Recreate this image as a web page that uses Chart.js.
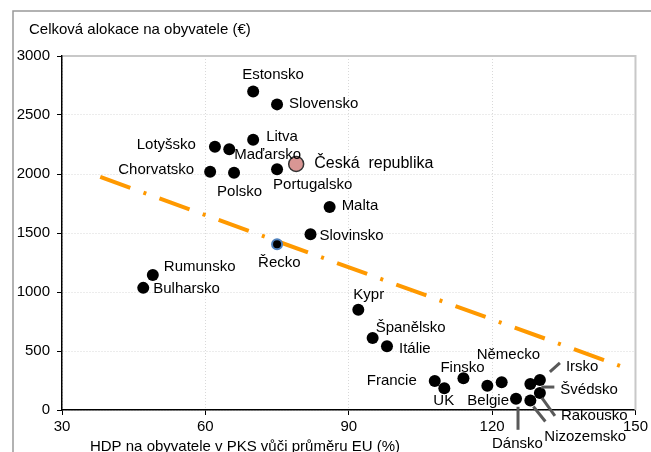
<!DOCTYPE html>
<html>
<head>
<meta charset="utf-8">
<script src="https://cdn.jsdelivr.net/npm/chart.js@4/dist/chart.umd.min.js"></script>
<style>
  body { margin: 0; background: #fff; }
  #wrap { width: 651px; height: 452px; }
</style>
</head>
<body>
<div id="wrap"><canvas id="graf" width="651" height="452"></canvas></div>
<script>
// Data z grafu
const zeme = ['Estonsko', 'Slovensko', 'Litva', 'Lotyšsko', 'Maďarsko', 'Česká republika',
  'Chorvatsko', 'Polsko', 'Portugalsko', 'Malta', 'Slovinsko', 'Řecko', 'Rumunsko', 'Bulharsko',
  'Kypr', 'Španělsko', 'Itálie', 'Francie', 'UK', 'Finsko', 'Belgie', 'Německo', 'Dánsko',
  'Nizozemsko', 'Irsko', 'Švédsko', 'Rakousko'];
const hdp = [70, 75, 70, 62, 65, 79, 61, 66, 75, 86, 82, 75, 49, 47,
  92, 95, 98, 108, 110, 114, 119, 122, 125, 128, 130, 128, 130];
const alokace = [2700, 2590, 2290, 2230, 2210, 2085, 2020, 2010, 2040, 1720, 1490, 1405, 1145, 1035,
  850, 610, 540, 245, 185, 270, 205, 235, 95, 80, 255, 220, 145];

// Trend (dvě koncové hodnoty)
const trendX = [38, 148];
const trendY = [1975, 356];

const xTicks = [30, 60, 90, 120, 150];
const yTicks = [0, 500, 1000, 1500, 2000, 2500, 3000];

const nazevY = 'Celková alokace na obyvatele (€)';
const nazevX = 'HDP na obyvatele v PKS vůči průměru EU (%)';

// Posun popisků vůči bodu: [dx, dy, zarovnání]
const popisky = {
  'Estonsko': [-11, -17, 'left'], 'Slovensko': [12, -1, 'left'], 'Litva': [13, -3, 'left'],
  'Lotyšsko': [-19, -2, 'right'], 'Maďarsko': [5, 6, 'left'], 'Česká republika': [18, 0, 'left'],
  'Chorvatsko': [-16, -2, 'right'], 'Polsko': [-17, 19, 'left'], 'Portugalsko': [-4, 16, 'left'],
  'Malta': [12, -1, 'left'], 'Slovinsko': [9, 2, 'left'], 'Řecko': [-19, 19, 'left'],
  'Rumunsko': [11, -8, 'left'], 'Bulharsko': [10, 1, 'left'], 'Kypr': [-5, -15, 'left'],
  'Španělsko': [3, -10, 'left'], 'Itálie': [12, 3, 'left'], 'Francie': [-18, 0, 'right'],
  'UK': [-11, 13, 'left'], 'Finsko': [-23, -10, 'left'], 'Belgie': [-20, 15, 'left'],
  'Německo': [-25, -27, 'left'], 'Dánsko': [-24, 45, 'left'], 'Nizozemsko': [14, 36, 'left'],
  'Irsko': [26, -13, 'left'], 'Švédsko': [30, 6, 'left'], 'Rakousko': [21, 23, 'left']
};
// Vodicí čáry
const vodice = {
  'Irsko': [10, -8, 20, -17], 'Švédsko': [11, 3, 24, 3], 'Rakousko': [2, 5, 15, 23],
  'Nizozemsko': [3, 6, 15, 21], 'Dánsko': [2, 8, 2, 31]
};

const body = zeme.map((z, i) => ({ x: hdp[i], y: alokace[i] }));
const trend = trendX.map((x, i) => ({ x: x, y: trendY[i] }));

const ramecek = {
  id: 'ramecek',
  beforeDraw(chart) {
    const ctx = chart.ctx;
    ctx.save();
    ctx.strokeStyle = '#999';
    ctx.lineWidth = 1.5;
    ctx.strokeRect(13, 11, 700, 500);
    ctx.restore();
  },
  afterDraw(chart) {
    const ctx = chart.ctx;
    const a = chart.chartArea;
    ctx.save();
    ctx.strokeStyle = '#c8c8c8';
    ctx.lineWidth = 2;
    ctx.beginPath();
    ctx.moveTo(a.left + 1, a.top);
    ctx.lineTo(a.right, a.top);
    ctx.lineTo(a.right, a.bottom);
    ctx.stroke();
    ctx.fillStyle = '#000';
    ctx.font = '15px "Liberation Sans", Arial, sans-serif';
    ctx.textBaseline = 'middle';
    ctx.textAlign = 'left';
    ctx.fillText(nazevY, 29, 30);
    ctx.textAlign = 'center';
    ctx.fillText(nazevX, 245, 447);
    ctx.restore();
  }
};

const popiskyPlugin = {
  id: 'popisky',
  afterDatasetsDraw(chart) {
    const ctx = chart.ctx;
    const meta = chart.getDatasetMeta(0);
    ctx.save();
    meta.data.forEach((el, i) => {
      const z = zeme[i];
      const v = vodice[z];
      if (v) {
        ctx.strokeStyle = '#595959';
        ctx.lineWidth = 3;
        ctx.beginPath();
        ctx.moveTo(el.x + v[0], el.y + v[1]);
        ctx.lineTo(el.x + v[2], el.y + v[3]);
        ctx.stroke();
      }
      const p = popisky[z];
      if (!p) return;
      ctx.fillStyle = '#000';
      ctx.textBaseline = 'middle';
      ctx.textAlign = p[2];
      if (z === 'Česká republika') {
        ctx.font = '16px "Liberation Sans", Arial, sans-serif';
        ctx.fillText('Česká  republika', el.x + p[0], el.y + p[1]);
      } else {
        ctx.font = '15px "Liberation Sans", Arial, sans-serif';
        ctx.fillText(z, el.x + p[0], el.y + p[1]);
      }
    });
    ctx.restore();
  }
};

const pismo = { family: '"Liberation Sans", Arial, sans-serif', size: 15 };

new Chart(document.getElementById('graf'), {
  type: 'scatter',
  data: {
    datasets: [{
      data: body,
      order: 0,
      pointRadius: ctx => zeme[ctx.dataIndex] === 'Česká republika' ? 7.5 : (zeme[ctx.dataIndex] === 'Řecko' ? 5 : 6),
      pointBackgroundColor: ctx => zeme[ctx.dataIndex] === 'Česká republika' ? '#d99694' : '#000',
      pointBorderColor: ctx => zeme[ctx.dataIndex] === 'Česká republika' ? '#333' : (zeme[ctx.dataIndex] === 'Řecko' ? '#4f81bd' : '#000'),
      pointBorderWidth: ctx => zeme[ctx.dataIndex] === 'Česká republika' ? 1.5 : (zeme[ctx.dataIndex] === 'Řecko' ? 2 : 0),
      pointHoverRadius: 6
    }, {
      type: 'line',
      data: trend,
      order: 1,
      borderColor: '#ff9900',
      borderWidth: 4,
      borderDash: [32, 14, 3, 14],
      borderCapStyle: 'butt',
      pointRadius: 0,
      fill: false
    }]
  },
  options: {
    responsive: false,
    animation: false,
    layout: { padding: { left: 0, right: 15, top: 56, bottom: 0 } },
    plugins: { legend: { display: false }, tooltip: { enabled: false } },
    scales: {
      x: {
        type: 'linear',
        min: xTicks[0],
        max: xTicks[xTicks.length - 1],
        afterBuildTicks: s => { s.ticks = xTicks.map(v => ({ value: v })); },
        afterFit: s => { s.height = 42; },
        ticks: { color: '#000', font: pismo, padding: 3, maxRotation: 0, callback: v => String(v) },
        grid: { color: '#d9d9d9', tickColor: '#000', tickLength: 5, tickBorderDash: [] },
        border: { color: '#000', width: 1.5, dash: [1, 2] }
      },
      y: {
        min: yTicks[0],
        max: yTicks[yTicks.length - 1],
        afterBuildTicks: s => { s.ticks = yTicks.map(v => ({ value: v })); },
        afterFit: s => { s.width = 62; },
        ticks: { color: '#000', font: pismo, padding: 7, callback: v => String(v) },
        grid: { color: '#d9d9d9', tickColor: '#000', tickLength: 5, tickBorderDash: [] },
        border: { color: '#000', width: 1.5, dash: [1, 2] }
      }
    }
  },
  plugins: [ramecek, popiskyPlugin]
});
</script>
</body>
</html>
